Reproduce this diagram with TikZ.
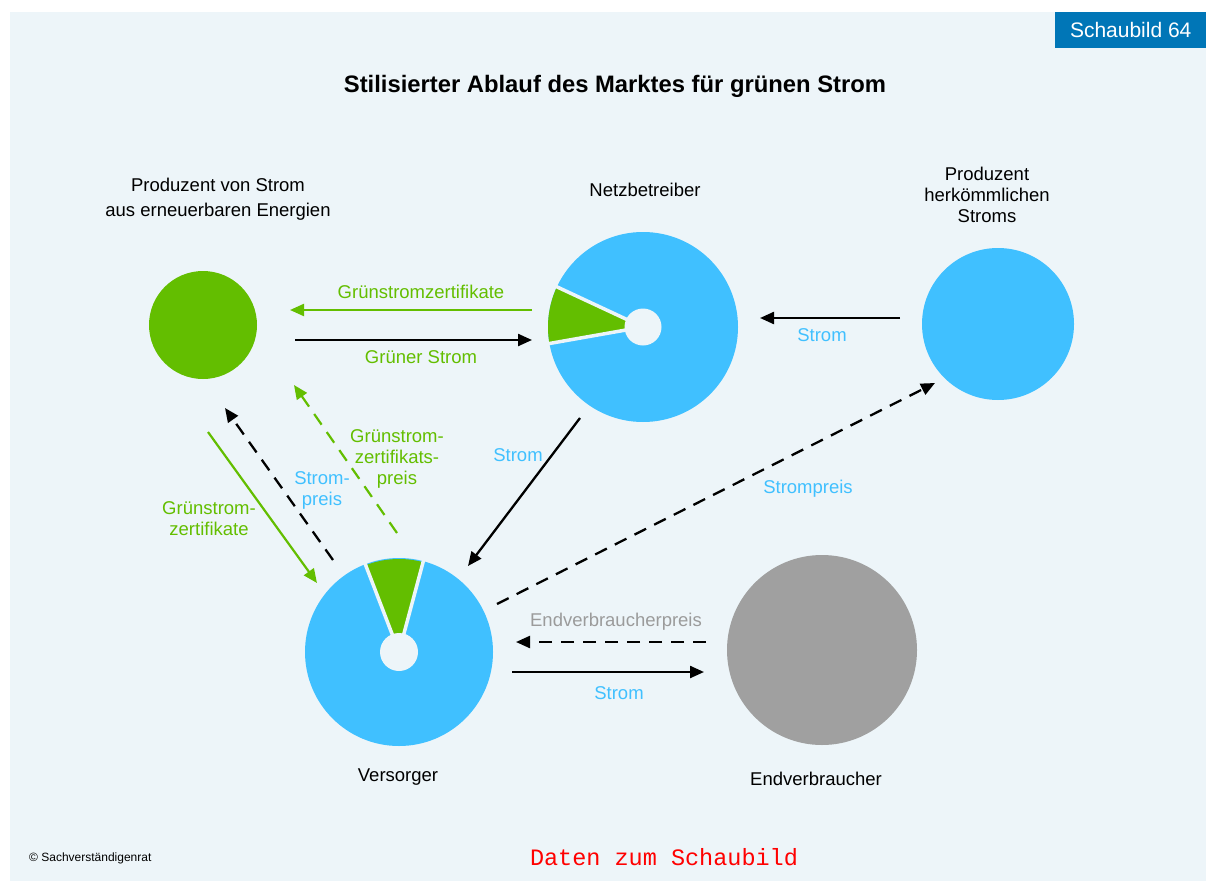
\documentclass[tikz,border=0pt]{standalone}
\usepackage{fontspec}
\setmainfont{Liberation Sans}
\newfontfamily\mymono{Liberation Mono}
\usetikzlibrary{arrows.meta}
\definecolor{bgc}{RGB}{237,245,249}
\definecolor{skyb}{RGB}{64,192,255}
\definecolor{grn}{RGB}{99,190,0}
\definecolor{gry}{RGB}{160,160,160}
\definecolor{lgry}{RGB}{155,155,155}
\definecolor{badgec}{RGB}{0,118,183}
\definecolor{redc}{RGB}{255,0,0}
\begin{document}
\begin{tikzpicture}[x=1pt,y=-1pt,
  conn/.style={line width=2.3pt,-{Triangle[length=14pt,width=12pt]}},
  dconn/.style={conn,dash pattern=on 13pt off 9pt},
  lbl/.style={font=\fontsize{18.5}{21}\selectfont, align=center, inner sep=0pt},
  disk/.style={circle, inner sep=0pt, minimum size=#1},
  gap/.style={draw=bgc, line width=3.5pt}
]
\useasboundingbox (0,0) rectangle (1206,883);
\fill[white] (0,0) rectangle (1206,883);
\fill[bgc] (10,12) rectangle (1206,881);
% badge
\node[fill=badgec, text=white, minimum width=151pt, minimum height=36pt, inner sep=0pt,
  font=\fontsize{21}{23}\selectfont, anchor=north west] (badge) at (1055,12) {Schaubild 64};
% title
\node[font=\fontsize{23.8}{26}\selectfont\bfseries] (title) at (615,86) {Stilisierter Ablauf des Marktes für grünen Strom};

% circles
\node[disk=108pt, fill=grn] (pee) at (203,325) {};
\node[disk=152pt, fill=skyb] (pconv) at (998,324) {};
\node[disk=190pt, fill=gry] (endv) at (822,650) {};
\node[disk=190pt] (netz) at (643,327) {};
\node[disk=188pt] (vers) at (399,652) {};

% Netzbetreiber pie
\fill[skyb] (netz.center) circle (95);
\fill[grn] (netz.center) -- ++(-155:95) arc (-155:-190:95) -- cycle;
\draw[gap] (netz.center) -- ++(-155:100);
\draw[gap] (netz.center) -- ++(-190:100);
\fill[bgc] (netz.center) circle (18.5);

% Versorger pie
\fill[skyb] (vers.center) circle (94);
\fill[grn] (vers.center) -- ++(-75:93) arc (-75:-111:93) -- cycle;
\draw[gap] (vers.center) -- ++(-75:100);
\draw[gap] (vers.center) -- ++(-111:100);
\fill[bgc] (vers.center) circle (19);

% node labels
\node[lbl] (l1) at (218,199) {Produzent von Strom\\[4pt]aus erneuerbaren Energien};
\node[lbl] (l2) at (645,190) {Netzbetreiber};
\node[lbl] (l3) at (987,195) {Produzent\\herkömmlichen\\Stroms};
\node[lbl] (l4) at (398,777) {Versorger};
\node[lbl] (l5) at (816,779) {Endverbraucher};

% connector end points
\coordinate (a1s) at (532,310); \coordinate (a1e) at (290,310);
\coordinate (a2s) at (295,340); \coordinate (a2e) at (532,340);
\coordinate (a3s) at (900,318); \coordinate (a3e) at (760,318);
\coordinate (a4s) at (580,418); \coordinate (a4e) at (468,566);
\coordinate (a5s) at (497,604); \coordinate (a5e) at (935,383);
\coordinate (a6s) at (706,642); \coordinate (a6e) at (516,642);
\coordinate (a7s) at (512,672); \coordinate (a7e) at (704,672);
\coordinate (a8s) at (208,432); \coordinate (a8e) at (317,583);
\coordinate (a9s) at (333,560); \coordinate (a9e) at (225,408);
\coordinate (a10s) at (397,533); \coordinate (a10e) at (294,385);

\draw[conn, grn, line width=2.2pt] (a1s) -- (a1e);
\draw[conn] (a2s) -- (a2e);
\draw[conn] (a3s) -- (a3e);
\draw[conn] (a4s) -- (a4e);
\draw[dconn] (a5s) -- (a5e);
\draw[dconn] (a6s) -- (a6e);
\draw[conn] (a7s) -- (a7e);
\draw[conn, grn, line width=2.2pt] (a8s) -- (a8e);
\draw[dconn] (a9s) -- (a9e);
\draw[dconn, grn, line width=2.2pt] (a10s) -- (a10e);

% connector labels
\node[lbl, text=grn] (t1) at (421,292) {Grünstromzertifikate};
\node[lbl, text=grn] (t2) at (421,357) {Grüner Strom};
\node[lbl, text=skyb] (t3) at (822,335) {Strom};
\node[lbl, text=skyb] (t4) at (518,455) {Strom};
\node[lbl, text=skyb] (t5) at (808,489) {Strompreis};
\node[lbl, text=lgry] (t6) at (616,622) {Endverbraucherpreis};
\node[lbl, text=skyb] (t7) at (619,693) {Strom};
\node[lbl, text=grn] (t8) at (209,519) {Grünstrom-\\zertifikate};
\node[lbl, text=skyb] (t9) at (322,490) {Strom-\\preis};
\node[lbl, text=grn] (t10) at (397,459) {Grünstrom-\\zertifikats-\\preis};

% footer
\node[font=\fontsize{12}{14}\selectfont, anchor=west, inner sep=0pt] (copy) at (29,858) {© Sachverständigenrat};
\node[font=\fontsize{23.5}{26}\selectfont\mymono, text=redc, inner sep=0pt] (daten) at (664,857) {Daten zum Schaubild};
\end{tikzpicture}
\end{document}
